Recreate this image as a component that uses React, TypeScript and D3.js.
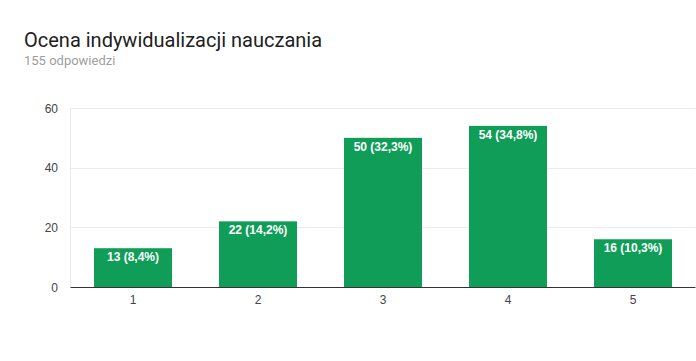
import React from "react";
import * as d3 from "d3";

const categories = ["1", "2", "3", "4", "5"];
const counts = [13, 22, 50, 54, 16];
const labels = ["13 (8,4%)", "22 (14,2%)", "50 (32,3%)", "54 (34,8%)", "16 (10,3%)"];
const yTicks = [0, 20, 40, 60];

const W = 696;
const H = 361;
const left = 70.5;
const right = 695.5;
const top = 108;
const bottom = 287;

export default function App() {
  const x = d3.scaleBand<string>().domain(categories).range([left, right]).paddingInner(0.376).paddingOuter(0.188);
  const y = d3.scaleLinear().domain([0, 60]).range([bottom, top]);
  const font = "Roboto, Arial, sans-serif";
  const arial = "'Liberation Sans', Arial, sans-serif";
  return (
    <svg width={W} height={H} style={{ position: "absolute", left: 0, top: 0, background: "#fff" }} fontFamily={font}>
      <text x={24} y={47} fontSize={20} fill="#212121">Ocena indywidualizacji nauczania</text>
      <text x={24} y={65} fontSize={13} fill="#9e9e9e">155 odpowiedzi</text>
      {yTicks.map((t) => (
        <g key={t}>
          {t > 0 && <line x1={left} x2={right} y1={Math.round(y(t)) + 0.5} y2={Math.round(y(t)) + 0.5} stroke="#ebebeb" />}
          <text x={58} y={y(t) + 4.5} textAnchor="end" fontSize={12} fontFamily={arial} fill="#444">{t}</text>
        </g>
      ))}
      <line x1={left} x2={left} y1={top} y2={bottom} stroke="#ebebeb" />
      {categories.map((c, i) => (
        <g key={c}>
          <rect x={x(c)} y={y(counts[i])} width={x.bandwidth()} height={bottom - y(counts[i])} fill="#0f9d58" />
          <text x={(x(c) as number) + x.bandwidth() / 2} y={y(counts[i]) + 13} textAnchor="middle" fontSize={12} fontWeight="bold" fontFamily={arial} fill="#fff">{labels[i]}</text>
          <text x={(x(c) as number) + x.bandwidth() / 2} y={304} textAnchor="middle" fontSize={12} fontFamily={arial} fill="#444">{c}</text>
        </g>
      ))}
      <line x1={left} x2={right} y1={bottom + 0.5} y2={bottom + 0.5} stroke="#333" />
    </svg>
  );
}
